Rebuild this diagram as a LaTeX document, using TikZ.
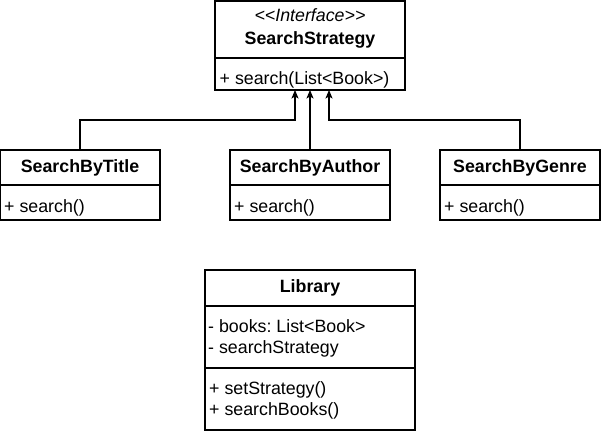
\documentclass[tikz,border=0pt]{standalone}
\usepackage{fontspec}
\setmainfont[Ligatures=NoCommon]{Liberation Sans}
\usetikzlibrary{arrows.meta}
\frenchspacing
\begin{document}
\begin{tikzpicture}[x=1pt,y=-1pt,
  box/.style={draw=black, line width=1.2pt, fill=white, anchor=north west, inner sep=0, outer sep=0},
  divider/.style={line width=2pt},
  txt/.style={inner sep=0, anchor=base west, font=\fontsize{17.8}{20}\selectfont},
  head/.style={inner sep=0, anchor=base, font=\fontsize{17.8}{20}\selectfont\bfseries},
  stereo/.style={inner sep=0, anchor=base, font=\fontsize{17.8}{20}\selectfont\itshape},
  conn/.style={line width=1.2pt, -{Stealth[length=8.5pt,width=7pt,inset=2pt]}}]
\useasboundingbox[fill=white] (0,0) rectangle (601,431);

% SearchStrategy interface
\node[box, minimum width=190pt, minimum height=89pt] (ss) at (215,1) {};
\draw[divider] (215,58) -- (405,58);
\node[stereo] (ssst) at (310,21) {<{}<Interface>{}>};
\node[head] (ssname) at (310,44) {SearchStrategy};
\node[txt] (ssm) at (219.5,84) {+ search(List<Book>)};

% SearchByTitle
\node[box, minimum width=160pt, minimum height=70pt] (t) at (0,150) {};
\draw[divider] (0,185) -- (160,185);
\node[head] (tname) at (80,172) {SearchByTitle};
\node[txt] (tm) at (4,212) {+ search()};

% SearchByAuthor
\node[box, minimum width=160pt, minimum height=70pt] (a) at (230,150) {};
\draw[divider] (230,185) -- (390,185);
\node[head] (aname) at (310,172) {SearchByAuthor};
\node[txt] (am) at (234,212) {+ search()};

% SearchByGenre
\node[box, minimum width=160pt, minimum height=70pt] (g) at (440,150) {};
\draw[divider] (440,185) -- (600,185);
\node[head] (gname) at (520,172) {SearchByGenre};
\node[txt] (gm) at (444,212) {+ search()};

% Library
\node[box, minimum width=210pt, minimum height=160pt] (lib) at (205,270) {};
\draw[divider] (205,306) -- (415,306);
\draw[divider] (205,368) -- (415,368);
\node[head] (libname) at (310,292) {Library};
\node[txt] (lf1) at (208,332) {- books: List<Book>};
\node[txt] (lf2) at (208,353) {- searchStrategy};
\node[txt] (lm1) at (209,394) {+ setStrategy()};
\node[txt] (lm2) at (209,415) {+ searchBooks()};

% connectors
\coordinate (ssL) at (295,90);
\coordinate (ssM) at (310,90);
\coordinate (ssR) at (329,90);
\coordinate (jl) at (295,120);
\coordinate (jr) at (329,120);
\draw[conn] (t.north) |- (jl) -- (ssL);
\draw[conn] (a.north) -- (ssM);
\draw[conn] (g.north) |- (jr) -- (ssR);
\end{tikzpicture}
\end{document}
